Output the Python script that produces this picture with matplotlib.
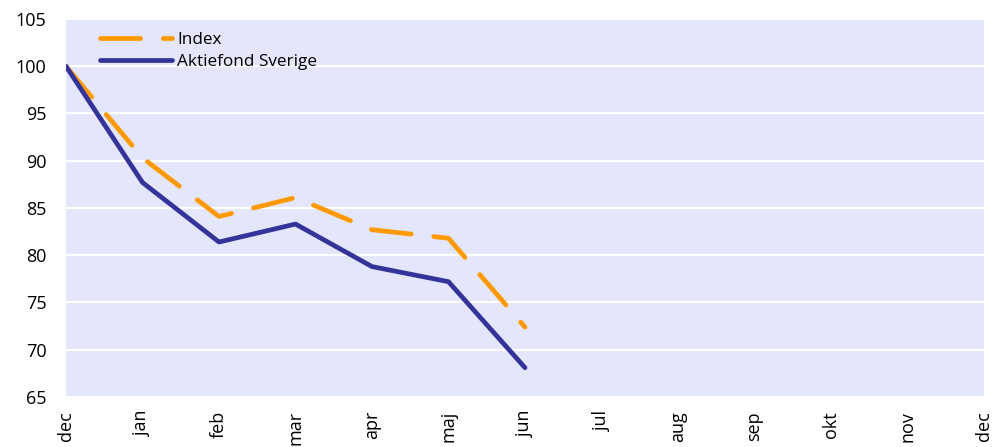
import matplotlib
matplotlib.use("Agg")
import matplotlib.pyplot as plt

months = ["dec", "jan", "feb", "mar", "apr", "maj", "jun", "jul", "aug", "sep", "okt", "nov", "dec"]
index_vals = [100, 90.3, 84.1, 86.1, 82.7, 81.8, 72.4]
fund_vals = [100, 87.7, 81.4, 83.3, 78.8, 77.2, 68.1]

plt.rcParams['font.family'] = ['Open Sans', 'DejaVu Sans']

fig = plt.figure(figsize=(9.94, 4.47), dpi=100)
ax = fig.add_axes([66/994, 1-397/447, (984-66)/994, (397-19)/447])
ax.set_facecolor('#E4E6FB')

x = list(range(len(months)))
ax.plot(x[:len(index_vals)], index_vals, color='#FF9900', lw=3.4, dashes=(8.5, 4.8),
        dash_capstyle='round', solid_capstyle='round', label='Index', zorder=3)
ax.plot(x[:len(fund_vals)], fund_vals, color='#333399', lw=3.4,
        solid_capstyle='round', label='Aktiefond Sverige', zorder=3)

ax.set_xlim(0, len(months)-1)
ax.set_ylim(65, 105)
ax.set_yticks(range(65, 106, 5))
ax.set_xticks(x)
ax.set_xticklabels(months, rotation=90, fontsize=13)
ax.tick_params(axis='y', labelsize=13, length=0, pad=14)
ax.tick_params(axis='x', length=0, pad=10)
ax.grid(axis='y', color='white', lw=1.5)
ax.set_axisbelow(True)
for s in ax.spines.values():
    s.set_visible(False)

leg = ax.legend(loc='upper left', bbox_to_anchor=(0.03, 0.985), frameon=False, fontsize=12.3,
                handlelength=4.2, handletextpad=0.3, labelspacing=0.4, borderaxespad=0)

fig.savefig('out.png', dpi=100)
